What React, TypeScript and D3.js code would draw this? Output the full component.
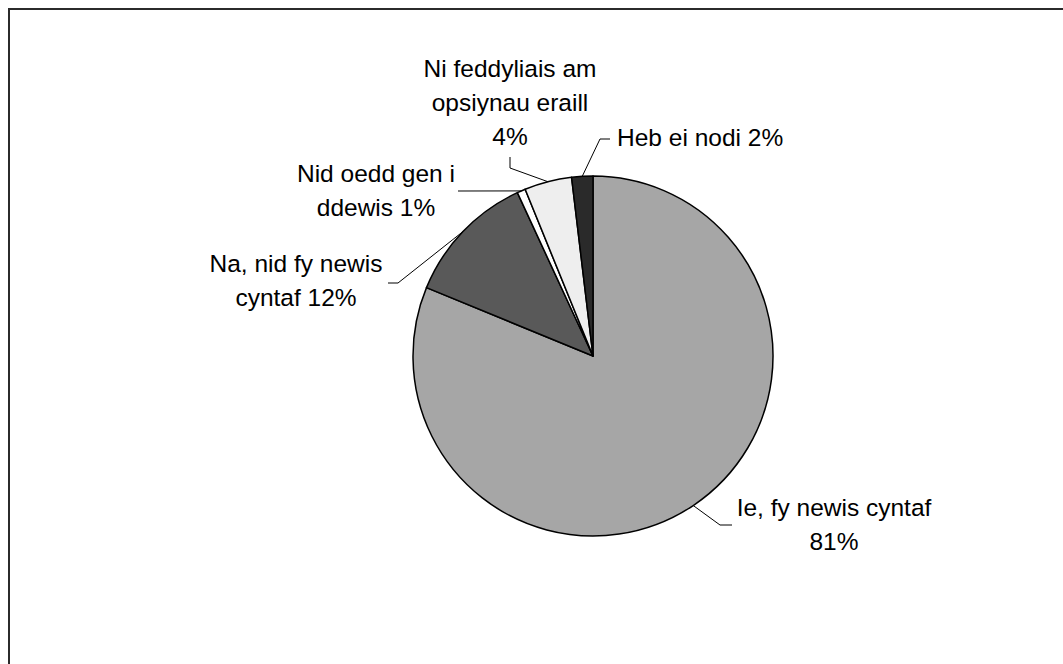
import React from "react";
import * as d3 from "d3";

const categories = [
  "Ie, fy newis cyntaf",
  "Na, nid fy newis cyntaf",
  "Nid oedd gen i ddewis",
  "Ni feddyliais am opsiynau eraill",
  "Heb ei nodi",
];
const values = [81.2, 11.9, 0.75, 4.25, 1.9];
const percentLabels = ["81%", "12%", "1%", "4%", "2%"];
const labelLines = [
  ["Ie, fy newis cyntaf", "81%"],
  ["Na, nid fy newis", "cyntaf 12%"],
  ["Nid oedd gen i", "ddewis 1%"],
  ["Ni feddyliais am", "opsiynau eraill", "4%"],
  ["Heb ei nodi 2%"],
];
const sliceColors = ["#a6a6a6", "#595959", "#ffffff", "#eeeeee", "#2a2a2a"];

// layout (label placement): text x, first baseline y, anchor; leader elbow points
const labelLayout = [
  { x: 834, y: 516, anchor: "middle", elbow: [[720, 525], [732, 525]] },
  { x: 296, y: 272, anchor: "middle", elbow: [[398, 283], [388, 283]] },
  { x: 376, y: 182, anchor: "middle", elbow: [[458, 191]] },
  { x: 510, y: 77, anchor: "middle", elbow: [[510, 168], [510, 157]] },
  { x: 617, y: 146, anchor: "start", elbow: [[600, 139], [610, 139]] },
];

const W = 1063;
const H = 664;
const cx = 593;
const cy = 356;
const R = 180;
const FONT = 24.5;
const LINE = 34;

export default function App() {
  const pie = d3.pie<number>().sort(null).value((d) => d)(values);
  const arc = d3.arc<d3.PieArcDatum<number>>().innerRadius(0).outerRadius(R);
  const edge = d3.arc<d3.PieArcDatum<number>>().innerRadius(R).outerRadius(R);
  const line = d3.line();

  return (
    <svg
      width={W}
      height={H}
      style={{ position: "absolute", left: 0, top: 0, background: "#fff" }}
      fontFamily="'Liberation Sans', Arial, sans-serif"
    >
      <rect x={9} y={9} width={1200} height={800} fill="#fff" stroke="#2b2b2b" strokeWidth={2} />
      <g transform={`translate(${cx},${cy})`}>
        {pie.map((p, i) => (
          <path key={categories[i]} d={arc(p) || ""} fill={sliceColors[i]} stroke="#000" strokeWidth={1.5} strokeLinejoin="round" />
        ))}
      </g>
      {pie.map((p, i) => {
        const [ex, ey] = edge.centroid(p);
        const pts: [number, number][] = [[cx + ex, cy + ey], ...(labelLayout[i].elbow as [number, number][])];
        return <path key={"l" + i} d={line(pts) || ""} fill="none" stroke="#000" strokeWidth={1} />;
      })}
      {labelLines.map((lines, i) => (
        <text
          key={"t" + i}
          x={labelLayout[i].x}
          y={labelLayout[i].y}
          textAnchor={labelLayout[i].anchor as any}
          fontSize={FONT}
          fill="#000"
        >
          {lines.map((s, j) => (
            <tspan key={j} x={labelLayout[i].x} dy={j === 0 ? 0 : LINE}>
              {s}
            </tspan>
          ))}
        </text>
      ))}
    </svg>
  );
}
